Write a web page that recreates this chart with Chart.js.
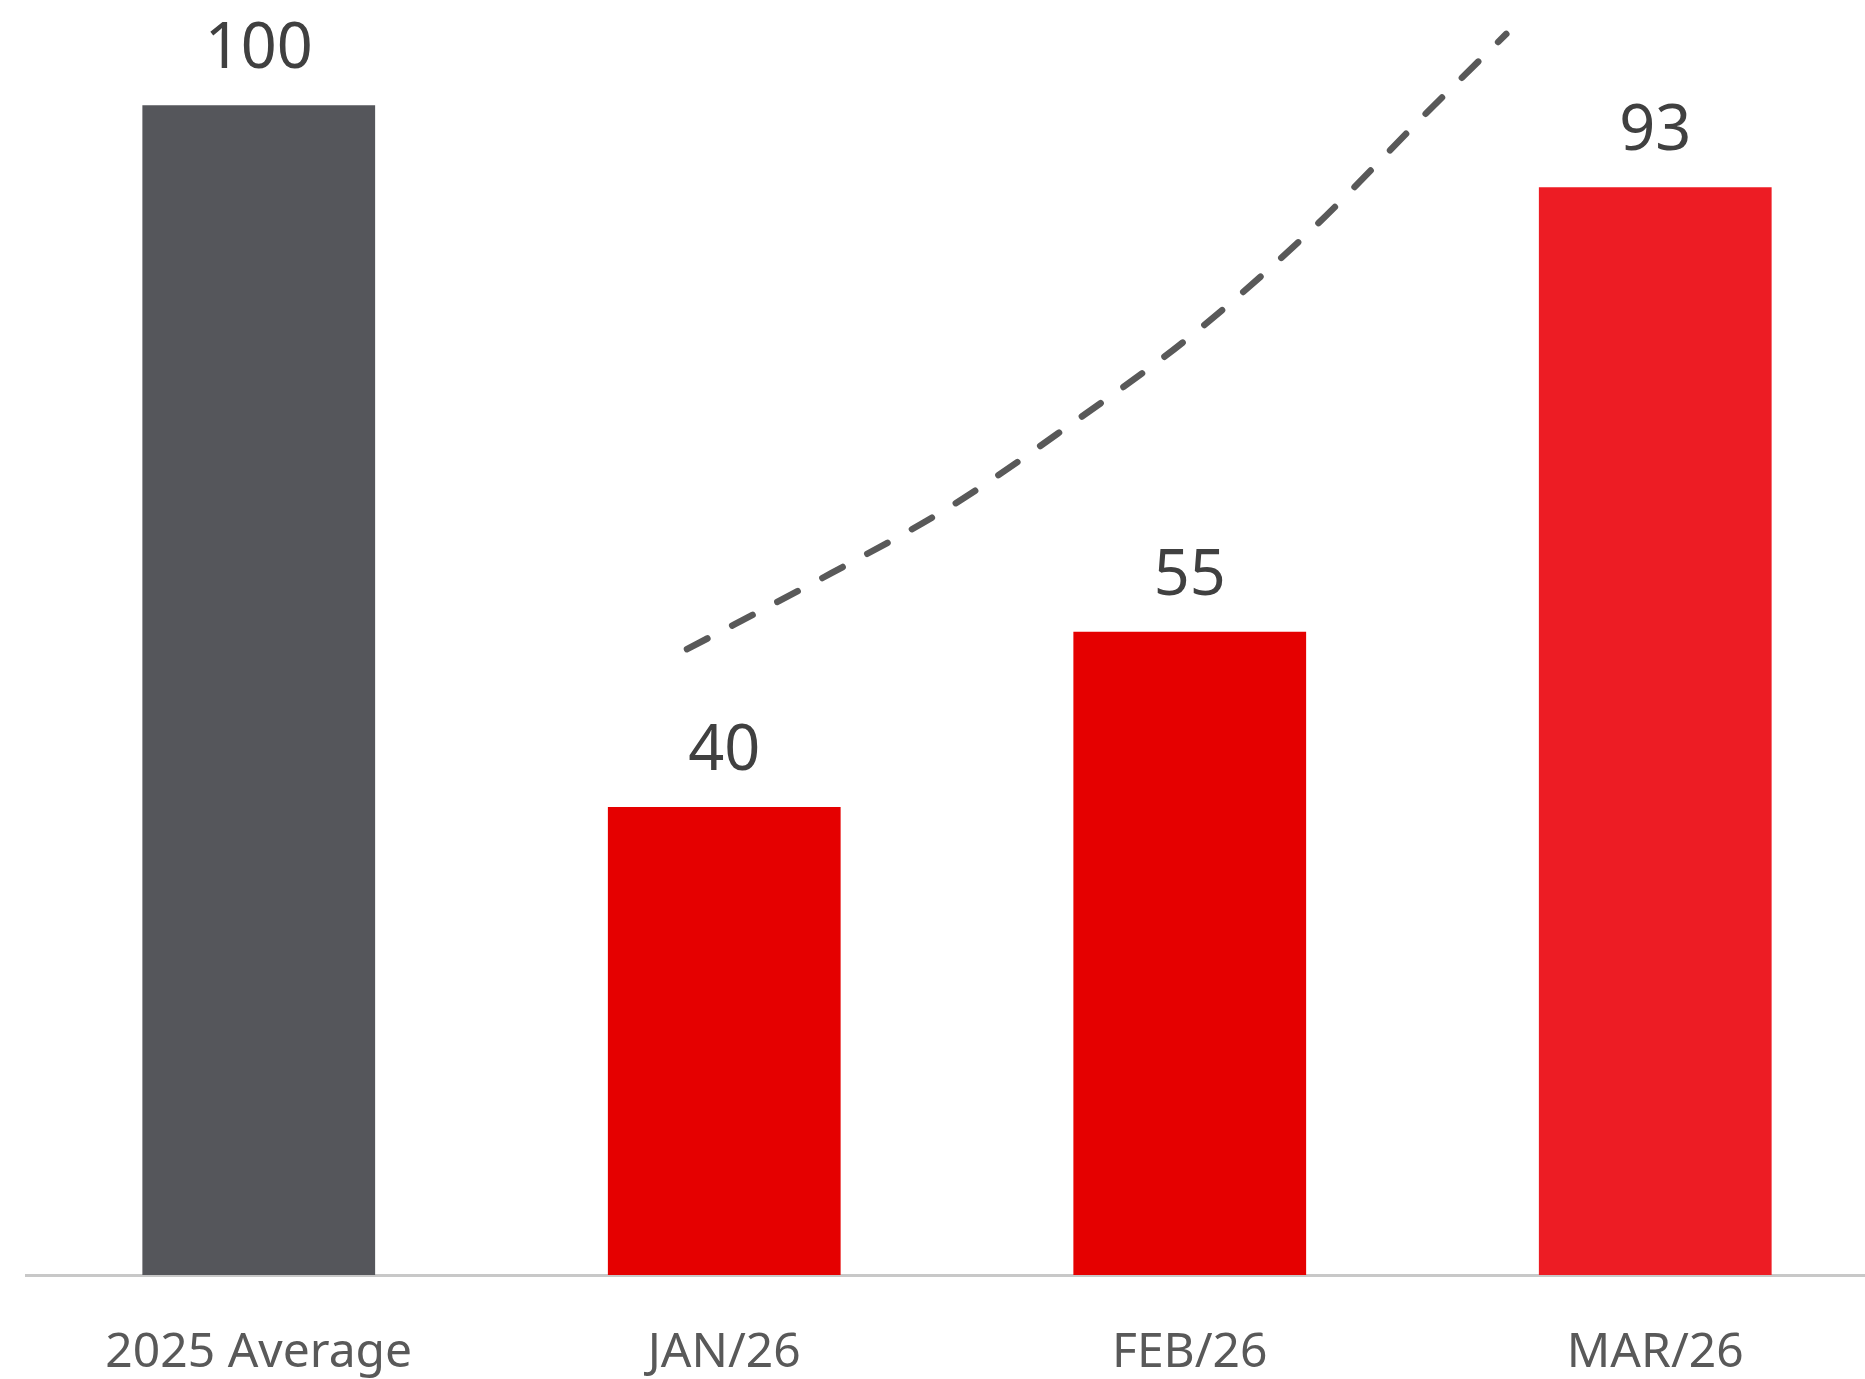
<!DOCTYPE html>
<html>
<head>
<meta charset="utf-8">
<script src="https://cdn.jsdelivr.net/npm/chart.js@4/dist/chart.umd.min.js"></script>
<style>
  html, body { margin: 0; padding: 0; background: #fff; overflow: hidden; width: 1865px; height: 1379px; }
  canvas { display: block; }
</style>
</head>
<body>
<canvas id="chart_sales" width="1888" height="1379"></canvas>
<script>
// values
const categories = ['2025 Average', 'JAN/26', 'FEB/26', 'MAR/26'];
const values = [100, 40, 55, 93];
// dashed trend curve, x in category units (0 = first bar centre)
const trendX = [0.92, 1.23, 1.49, 1.74, 2.0, 2.26, 2.51, 2.68];
const trendY = [53.5, 60.0, 65.8, 72.6, 80.2, 89.3, 99.4, 106.1];

const barColors = ['#55565b', '#e50000', '#e50000', '#ed1c24'];

const valueLabels = {
	id: 'valueLabels',
	afterDatasetsDraw(chart) {
		const ctx = chart.ctx;
		const meta = chart.getDatasetMeta(0);
		ctx.save();
		ctx.font = '63px "Noto Sans"';
		ctx.fillStyle = '#404040';
		ctx.textAlign = 'center';
		ctx.textBaseline = 'alphabetic';
		meta.data.forEach(function(bar, i){
			ctx.fillText(String(values[i]), bar.x, bar.y - 37);
		});
		ctx.restore();
	}
};

const ctx = document.getElementById('chart_sales').getContext('2d');
const config = {
	type: 'bar',
	data: {
		labels: categories,
		datasets: [{
			type: 'bar',
			data: values,
			backgroundColor: barColors,
			borderWidth: 0,
			grouped: false,
			categoryPercentage: 1,
			barPercentage: 0.5,
			xAxisID: 'x',
			order: 2
		},
		{
			type: 'line',
			data: trendX.map((x, i) => ({x: x, y: trendY[i]})),
			xAxisID: 'x2',
			borderColor: '#595959',
			borderWidth: 6.5,
			borderDash: [23, 28],
			borderCapStyle: 'round',
			cubicInterpolationMode: 'monotone',
			pointRadius: 0,
			fill: false,
			order: 1
		}]
	},
	options: {
		responsive: false,
		devicePixelRatio: 1,
		animation: false,
		layout: { padding: { left: 26, right: 0, top: 0, bottom: 0 } },
		plugins: {
			legend: { display: false },
			tooltip: { enabled: false }
		},
		scales: {
			x: {
				type: 'category',
				offset: true,
				grid: { display: true, color: 'transparent', drawTicks: false },
				border: { display: true, color: '#c8c8c8', width: 3 },
				ticks: {
					padding: 50,
					color: '#595959',
					font: { family: '"Noto Sans"', size: 48 }
				},
				afterFit: function(axis){ axis.height = 104; }
			},
			x2: {
				type: 'linear',
				display: false,
				offset: false,
				min: -0.5,
				max: 3.5
			},
			y: {
				display: false,
				min: 0,
				max: 109
			}
		}
	},
	plugins: [valueLabels]
};
const chart_sales = new Chart(ctx, config);
</script>
</body>
</html>
